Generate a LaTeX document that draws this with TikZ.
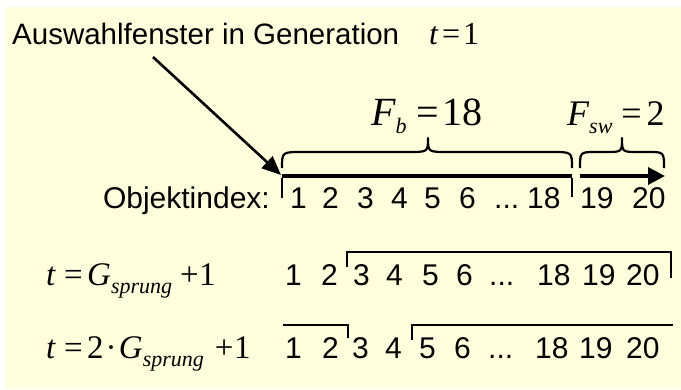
\documentclass[tikz,border=0pt]{standalone}
\usepackage{fontspec}
\setmainfont{Liberation Sans}
\newfontfamily\tms{Liberation Serif}
\usetikzlibrary{arrows.meta}
\definecolor{bgyellow}{RGB}{255,255,221}
\newcommand{\fsz}[1]{\fontsize{#1}{#1}\selectfont}
\newcommand{\eqsub}[3]{\raisebox{-#3pt}{\fsz{#2}\tms\itshape #1}}
\newcommand{\dts}{...}
\begin{document}
\begin{tikzpicture}[x=1pt,y=-1pt,
  txt/.style={anchor=base west,inner sep=0pt,font=\fsz{30}},
  num/.style={anchor=base west,inner sep=0pt,font=\fsz{30}},
  eq/.style={anchor=base west,inner sep=0pt,font=\fsz{33}\tms},
  brace/.style={line width=2.2pt,line join=round},
  bracket/.style={line width=2.8pt},
  axis/.style={line width=3.6pt},
  pointer/.style={line width=2.6pt,-{Triangle[length=19pt,width=16pt]}}]
\useasboundingbox (0,0) rectangle (681,389);
\fill[white] (0,0) rectangle (681,389);
\fill[bgyellow] (5,7) rectangle (681,389);

% title
\node[txt,font=\fsz{29.5}] (title) at (12,44) {Auswahlfenster in Generation};
\node[eq,font=\fsz{32}\tms] (tone) at (429,44) {\itshape t\hspace{4pt}\upshape=\hspace{3pt}1};

% brace labels
\node[eq,font=\fsz{40}\tms] (fb) at (371,125) {\itshape F\eqsub{b}{22}{8}\hspace{10pt}\upshape=\hspace{3pt}18};
\node[eq,font=\fsz{36}\tms] (fsw) at (567,125) {\itshape F\eqsub{sw}{22}{8}\hspace{9pt}\upshape=\hspace{5pt}2};

% braces
\draw[brace] (282,168) .. controls (282,152) .. (302,152) -- (408,152)
  .. controls (428,152) .. (428,138) .. controls (428,152) .. (448,152)
  -- (552,152) .. controls (572,152) .. (572,168);
\draw[brace] (580,168) .. controls (580,152) .. (596,152) -- (606,152)
  .. controls (622,152) .. (622,138) .. controls (622,152) .. (638,152)
  -- (648,152) .. controls (664,152) .. (664,168);

% axis
\coordinate (ax0) at (282,176);
\coordinate (ax1) at (572,176);
\coordinate (ax2) at (580,176);
\coordinate (ax3) at (665,176);
\coordinate (astart) at (153,57);
\draw[axis] (ax0) -- (ax1);
\draw[axis,-{Triangle[length=17pt,width=17pt]}] (ax2) -- (ax3);
\draw[bracket] ([yshift=-1.8]ax0) -- ++(0,20);
\draw[bracket] ([yshift=-1.8]ax1) -- ++(0,19);
\draw[pointer] (astart) -- ([shift={(-1,-1)}]ax0);

% row 1
\node[txt,anchor=base east] (objl) at (270,208) {Objektindex:};
\foreach \x/\t [count=\i] in {290/1,322/2,357/3,391/4,424/5,459/6,494/\dts,527/18,580/19,632/20}
  \node[num] (ra\i) at (\x,208) {\t};

% row 2
\node[eq] (eqa) at (46,285) {\itshape t\hspace{8.8pt}\upshape=\hspace{4.4pt}\itshape G\hspace{0pt}\eqsub{sprung}{22}{8}\hspace{8pt}\upshape+\hspace{0.5pt}1};
\foreach \x/\t [count=\i] in {285/1,321/2,353/3,386/4,422/5,456/6,489/\dts,537/18,582/19,626/20}
  \node[num] (rb\i) at (\x,285) {\t};
\coordinate (b1) at (347,267);
\coordinate (b2) at (347,252);
\coordinate (b3) at (671,252);
\coordinate (b4) at (671,278);
\draw[bracket] (b1) -- (b2) -- (b3) -- (b4);

% row 3
\node[eq] (eqb) at (46,358) {\itshape t\hspace{8.8pt}\upshape=\hspace{4.4pt}2\hspace{2pt}·\hspace{2.3pt}\itshape G\hspace{0pt}\eqsub{sprung}{22}{8}\hspace{11pt}\upshape+\hspace{0.5pt}1};
\foreach \x/\t [count=\i] in {285/1,322/2,352/3,385/4,419/5,454/6,488/\dts,535/18,579/19,626/20}
  \node[num] (rc\i) at (\x,358) {\t};
\coordinate (c1) at (283,325);
\coordinate (c2) at (348,325);
\coordinate (c3) at (348,338);
\coordinate (c4) at (412,340);
\coordinate (c5) at (412,325);
\coordinate (c6) at (673,325);
\draw[bracket] (c1) -- (c2) -- (c3);
\draw[bracket] (c4) -- (c5) -- (c6);
\end{tikzpicture}
\end{document}
